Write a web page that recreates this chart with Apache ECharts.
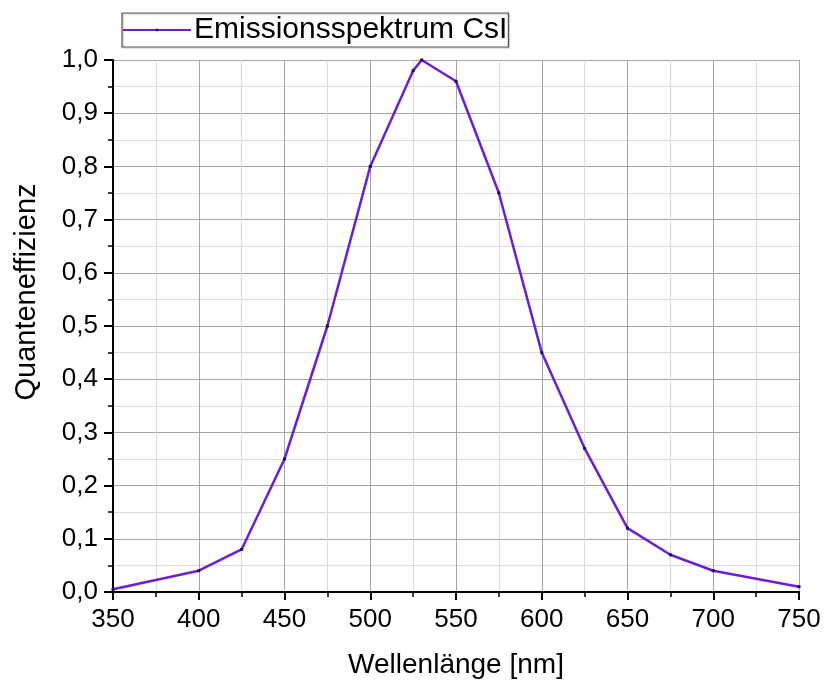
<!DOCTYPE html>
<html><head><meta charset="utf-8">
<script src="https://cdn.jsdelivr.net/npm/echarts@6/dist/echarts.min.js"></script>
<style>html,body{margin:0;padding:0;background:#fff}#c{width:828px;height:685px}</style>
</head><body><div id="c"></div>
<script>
const wavelengths = [350, 400, 425, 450, 475, 500, 525, 530, 550, 575, 600, 625, 650, 675, 700, 750];
const efficiency = [0.005, 0.04, 0.08, 0.25, 0.5, 0.8, 0.98, 1.0, 0.96, 0.75, 0.45, 0.27, 0.12, 0.07, 0.04, 0.01];
const seriesName = 'Emissionsspektrum CsI';
const xTitle = 'Wellenlänge [nm]';
const yTitle = 'Quanteneffizienz';

const font = 'Liberation Sans, Arial, sans-serif';
const chart = echarts.init(document.getElementById('c'));
chart.setOption({
  animation: false,
  backgroundColor: '#fff',
  grid: {left: 113, right: 29, top: 60, bottom: 93, outerBoundsMode: 'none', containLabel: false},
  legend: {
    left: 122, top: 13,
    data: [seriesName],
    itemWidth: 68, itemHeight: 3, itemGap: 0,
    padding: [2, 1, 2, 0],
    borderColor: '#555', borderWidth: 1.2,
    shadowColor: 'rgba(0,0,0,0.25)', shadowOffsetX: 1, shadowOffsetY: 1, shadowBlur: 1,
    textStyle: {fontFamily: font, fontSize: 30, color: '#000', padding: [0,0,0,-2]}
  },
  xAxis: {
    type: 'value', min: 350, max: 750, interval: 50,
    name: xTitle, nameLocation: 'middle', nameGap: 59,
    nameTextStyle: {fontFamily: font, fontSize: 28, color: '#000'},
    axisLine: {lineStyle: {color: '#000', width: 2}},
    axisTick: {show: true, length: 8, lineStyle: {color: '#000', width: 2}},
    minorTick: {show: true, splitNumber: 2, length: 5, lineStyle: {color: '#000', width: 1.5}},
    axisLabel: {fontFamily: font, fontSize: 26, color: '#000', margin: 15},
    splitLine: {show: true, lineStyle: {color: '#a4a4a4', width: 1}},
    minorSplitLine: {show: true, lineStyle: {color: '#dadada', width: 1}}
  },
  yAxis: {
    type: 'value', min: 0, max: 1, interval: 0.1,
    name: yTitle, nameLocation: 'middle', nameGap: 72,
    nameTextStyle: {fontFamily: font, fontSize: 29, color: '#000', padding: [0, 0, 0, 68]},
    axisLine: {show: true, lineStyle: {color: '#000', width: 2}},
    axisTick: {show: true, length: 9, lineStyle: {color: '#000', width: 2}},
    minorTick: {show: true, splitNumber: 2, length: 5, lineStyle: {color: '#000', width: 1.5}},
    axisLabel: {fontFamily: font, fontSize: 26, color: '#000', margin: 15,
      formatter: v => v.toFixed(1).replace('.', ',')},
    splitLine: {show: true, lineStyle: {color: '#a4a4a4', width: 1}},
    minorSplitLine: {show: true, lineStyle: {color: '#dadada', width: 1}}
  },
  series: [{
    name: seriesName,
    type: 'line',
    data: wavelengths.map((w, i) => [w, efficiency[i]]),
    symbol: 'rect', symbolSize: 3,
    itemStyle: {color: '#1a1060'},
    lineStyle: {color: '#6c1ed6', width: 2.5},
    emphasis: {disabled: true}
  }]
});
</script></body></html>
